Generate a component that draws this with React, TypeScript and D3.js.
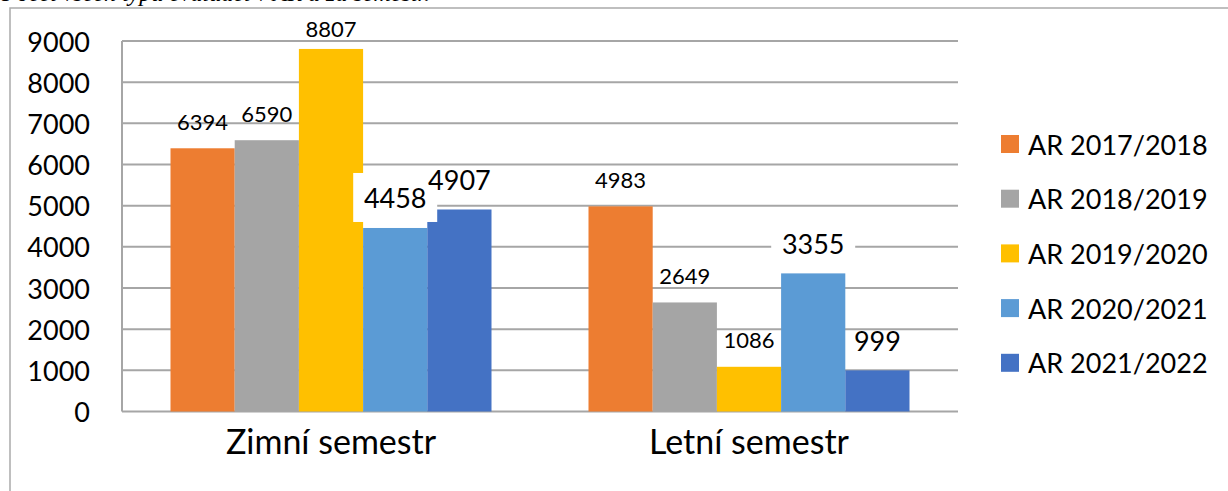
import React from "react";
import * as d3 from "d3";

const semesters = ["Zimní semestr", "Letní semestr"];
const years = ["AR 2017/2018", "AR 2018/2019", "AR 2019/2020", "AR 2020/2021", "AR 2021/2022"];
// values per year, [zimní, letní]
const y2017 = [6394, 4983];
const y2018 = [6590, 2649];
const y2019 = [8807, 1086];
const y2020 = [4458, 3355];
const y2021 = [4907, 999];
const yTicks = [0, 1000, 2000, 3000, 4000, 5000, 6000, 7000, 8000, 9000];

const series = [y2017, y2018, y2019, y2020, y2021];
const colors = ["#ED7D31", "#A5A5A5", "#FFC000", "#5B9BD5", "#4472C4"];
const bigLabel = [false, false, false, true, true];
const boxLabel = [false, false, false, true, false];

const font = "Lato, 'Open Sans', sans-serif";

const App = () => {
  const left = 122;
  const right = 958;

  const y = d3.scaleLinear().domain([0, 9000]).range([411.5, 41]);
  const x0 = d3.scaleBand().domain(semesters).range([left, right]);
  const x1 = d3
    .scaleBand()
    .domain(years)
    .range([48.5, x0.bandwidth() - 48.5]);

  return (
    <svg
      width={1228}
      height={491}
      style={{ position: "absolute", left: 0, top: 0, background: "#fff" }}
    >
      <text
        x={2}
        y={1}
        fontFamily="'Liberation Serif', serif"
        fontStyle="italic"
        fontSize={24}
        fill="#000"
      >
        Počet všech typů evaluací v AR a za semestr.
      </text>
      <rect x={10} y={8} width={1300} height={600} fill="none" stroke="#ababab" strokeWidth={1.5} />

      {yTicks.map(t => (
        <g key={t}>
          <line x1={left} x2={right} y1={y(t)} y2={y(t)} stroke="#a6a6a6" strokeWidth={2} />
          <text
            x={90}
            y={y(t)}
            textAnchor="end"
            dominantBaseline="central"
            fontFamily={font}
            fontSize={27}
            fill="#000"
          >
            {t}
          </text>
        </g>
      ))}
      <line x1={left} x2={left} y1={y(9000)} y2={y(0)} stroke="#a6a6a6" strokeWidth={2} />

      {semesters.map((s, si) => (
        <g key={s} transform={`translate(${x0(s)},0)`}>
          {series.map((vals, i) => (
            <rect
              key={i}
              x={x1(years[i])}
              y={y(vals[si])}
              width={x1.bandwidth()}
              height={y(0) - y(vals[si])}
              fill={colors[i]}
            />
          ))}
          <text
            x={x0.bandwidth() / 2}
            y={440}
            textAnchor="middle"
            dominantBaseline="central"
            fontFamily={font}
            fontSize={34}
            fill="#000"
          >
            {s}
          </text>
        </g>
      ))}

      {semesters.map((s, si) => (
        <g key={s} transform={`translate(${x0(s)},0)`}>
          {series.map((vals, i) => {
            const cx = x1(years[i]) + x1.bandwidth() / 2;
            const cy = Math.max(y(vals[si]) - (bigLabel[i] ? 30 : 27), 28);
            return (
              <g key={i}>
                {boxLabel[i] && (
                  <rect x={cx - 42} y={cy - 25} width={84} height={49} fill="#fff" />
                )}
                <text
                  x={cx}
                  y={cy}
                  textAnchor="middle"
                  dominantBaseline="central"
                  fontFamily={font}
                  fontSize={bigLabel[i] ? 27 : 22}
                  fill="#000"
                >
                  {vals[si]}
                </text>
              </g>
            );
          })}
        </g>
      ))}

      {years.map((yr, i) => (
        <g key={yr} transform={`translate(1001,${144 + i * 54.7})`}>
          <rect x={0} y={-9} width={18} height={18} fill={colors[i]} />
          <text
            x={27}
            y={0}
            dominantBaseline="central"
            fontFamily={font}
            fontSize={27}
            fill="#000"
          >
            {yr}
          </text>
        </g>
      ))}
    </svg>
  );
};

export default App;
